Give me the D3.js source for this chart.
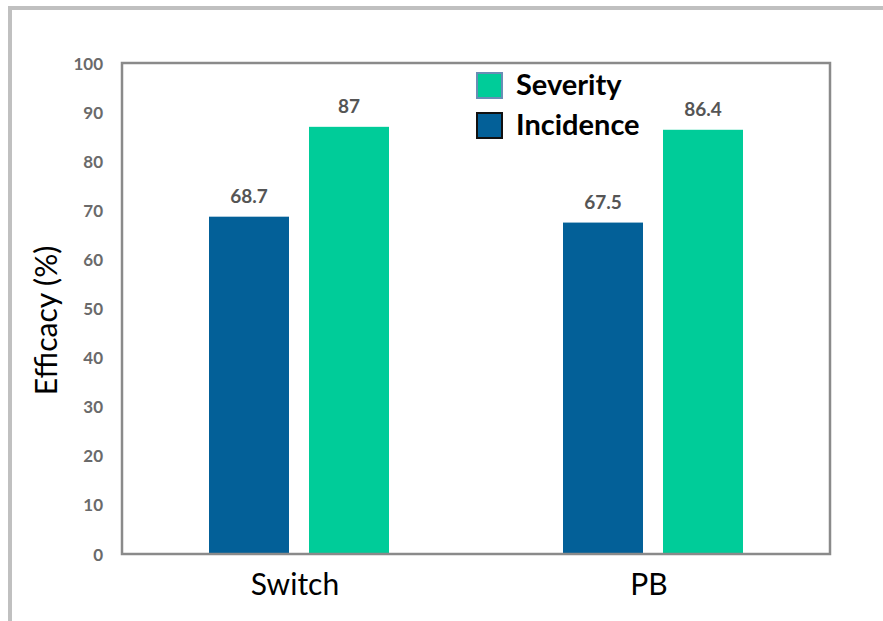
<!DOCTYPE html>
<html>
<head>
<meta charset="utf-8">
<script src="https://cdn.jsdelivr.net/npm/d3@7"></script>
<style>
  body { margin: 0; background: #fff; }
  svg { display: block; font-family: Lato, "Open Sans", sans-serif; }
  .tick-label { font-size: 17px; font-weight: bold; fill: #6a6a6a; }
  .value-label { font-size: 19px; font-weight: bold; fill: #555; }
</style>
</head>
<body>
<div id="chart"></div>
<script>
const categories = ['Switch', 'PB'];
const seriesNames = ['Incidence', 'Severity'];
const incidence = [68.7, 67.5];
const severity = [87, 86.4];
const yTicks = [0, 10, 20, 30, 40, 50, 60, 70, 80, 90, 100];
const legendOrder = ['Severity', 'Incidence'];

let width = 883,
    height = 621,
    plotLeft = 122,
    plotRight = 830,
    plotTop = 63,
    plotBottom = 554,
    groupWidth = 180;

const colors = {Incidence: '#036098', Severity: '#00cc99'};
const legendStroke = {Incidence: '#111', Severity: '#6a8db5'};

const rows = categories.map((c, i) => ({
    category: c,
    values: [
        {series: 'Incidence', value: incidence[i]},
        {series: 'Severity', value: severity[i]}
    ]
}));

const svg = d3.select('#chart').append('svg')
    .attr('width', width)
    .attr('height', height);

// outer frame (only left and top edges show)
svg.append('rect')
    .attr('x', 10).attr('y', 8)
    .attr('width', width + 20).attr('height', height + 20)
    .attr('fill', 'none')
    .attr('stroke', '#c0c0c0')
    .attr('stroke-width', 4);

const x0 = d3.scaleBand()
    .domain(categories)
    .range([plotLeft, plotRight])
    .padding(0);

const x1 = d3.scaleBand()
    .domain(seriesNames)
    .range([0, groupWidth])
    .paddingInner(0.2);

const y = d3.scaleLinear()
    .domain([0, 100])
    .range([plotBottom, plotTop]);

// bars
const groups = svg.selectAll('.group')
    .data(rows).enter()
    .append('g')
    .attr('class', 'group')
    .attr('transform', d => 'translate(' + (x0(d.category) + (x0.bandwidth() - groupWidth) / 2) + ',0)');

groups.selectAll('rect')
    .data(d => d.values).enter()
    .append('rect')
    .attr('x', d => x1(d.series))
    .attr('y', d => y(d.value))
    .attr('width', x1.bandwidth())
    .attr('height', d => y(0) - y(d.value))
    .attr('fill', d => colors[d.series]);

groups.selectAll('.value-label')
    .data(d => d.values).enter()
    .append('text')
    .attr('class', 'value-label')
    .attr('text-anchor', 'middle')
    .attr('x', d => x1(d.series) + x1.bandwidth() / 2)
    .attr('y', d => y(d.value) - 14)
    .text(d => d.value);

// plot frame
svg.append('rect')
    .attr('x', plotLeft)
    .attr('y', plotTop)
    .attr('width', plotRight - plotLeft)
    .attr('height', plotBottom - plotTop)
    .attr('fill', 'none')
    .attr('stroke', '#8a8a8a')
    .attr('stroke-width', 2.5);

// y tick labels
svg.selectAll('.tick-label')
    .data(yTicks).enter()
    .append('text')
    .attr('class', 'tick-label')
    .attr('text-anchor', 'end')
    .attr('dominant-baseline', 'central')
    .attr('x', 103)
    .attr('y', d => y(d))
    .text(d => d);

// y title
svg.append('text')
    .attr('transform', 'translate(57,' + ((plotTop + plotBottom) / 2 + 12) + ') rotate(-90)')
    .attr('text-anchor', 'middle')
    .style('font-size', '30px')
    .style('fill', '#000')
    .text('Efficacy (%)');

// category labels
svg.selectAll('.cat-label')
    .data(categories).enter()
    .append('text')
    .attr('class', 'cat-label')
    .attr('text-anchor', 'middle')
    .attr('x', d => x0(d) + x0.bandwidth() / 2 - 4)
    .attr('y', 595)
    .style('font-size', '30px')
    .style('fill', '#000')
    .text(d => d);

// legend
const legend = svg.selectAll('.legend')
    .data(legendOrder).enter()
    .append('g')
    .attr('class', 'legend')
    .attr('transform', (d, i) => 'translate(477,' + (73 + i * 40) + ')');

legend.append('rect')
    .attr('width', 25)
    .attr('height', 25)
    .attr('fill', d => colors[d])
    .attr('stroke', d => legendStroke[d])
    .attr('stroke-width', 2);

legend.append('text')
    .attr('x', 39)
    .attr('y', 22)
    .style('font-size', '29px')
    .style('font-weight', 'bold')
    .style('fill', '#000')
    .text(d => d);
</script>
</body>
</html>
